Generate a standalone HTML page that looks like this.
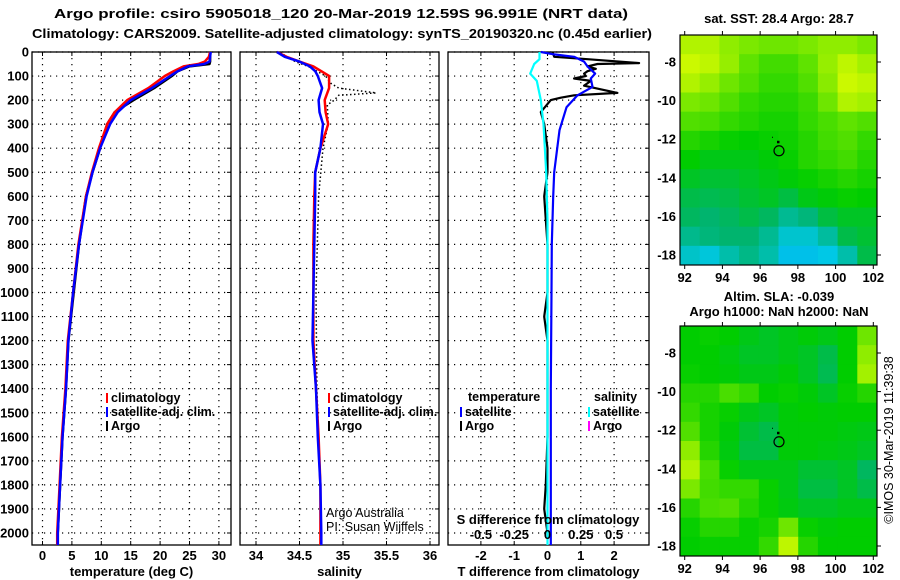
<!DOCTYPE html>
<html><head><meta charset="utf-8"><style>
html,body{margin:0;padding:0;background:#fff;}
svg{display:block;font-family:"Liberation Sans",sans-serif;}
.b{font-weight:bold;font-size:13px;}
.l{font-weight:bold;font-size:12.5px;}
</style></head><body>
<svg id="c" width="900" height="580" viewBox="0 0 900 580">
<text class="b" x="341" y="18" text-anchor="middle" font-size="14.5" textLength="574" lengthAdjust="spacingAndGlyphs">Argo profile: csiro 5905018_120 20-Mar-2019 12.59S 96.991E (NRT data)</text>
<text class="b" x="342" y="38" text-anchor="middle" font-size="14.5" textLength="620" lengthAdjust="spacingAndGlyphs">Climatology: CARS2009. Satellite-adjusted climatology: synTS_20190320.nc (0.45d earlier)</text>
<text class="b" x="779" y="23" text-anchor="middle">sat. SST: 28.4 Argo: 28.7</text>
<text class="b" x="779" y="301" text-anchor="middle">Altim. SLA: -0.039</text>
<text class="b" x="779" y="316" text-anchor="middle">Argo h1000: NaN h2000: NaN</text>
<text x="893" y="440" font-size="12.5" text-anchor="middle" transform="rotate(-90 893 440)">©IMOS 30-Mar-2019 11:39:38</text>
</svg>
<script>
// ---- data ----
const depthTicks=[0,100,200,300,400,500,600,700,800,900,1000,1100,1200,1300,1400,1500,1600,1700,1800,1900,2000];
const tempTicks=[0,5,10,15,20,25,30];
const salTicks=[34,34.5,35,35.5,36];
const tdTicks=[-2,-1,0,1,2];
const sdTicks=[-0.5,-0.25,0,0.25,0.5];
const sdTickLabels=["-0.5","-0.25","0","0.25","0.5"];
const profDepth=[0,20,40,50,60,80,100,150,200,250,300,400,500,600,800,1000,1200,1400,1600,1800,2000,2050];
const tempClim=[28.5,28.3,27.6,26.5,24,22.3,20.8,18,14.4,12.3,11,9.6,8.4,7.4,6.1,5.2,4.3,3.9,3.3,2.9,2.5,2.5];
const tempSat=[28.6,28.5,28.4,27.5,24.7,23,21.7,18.6,15,12.8,11.5,9.8,8.5,7.5,6.2,5.2,4.4,4.0,3.4,3.0,2.6,2.6];
const tempArgo=[28.5,28.5,28.5,28.4,25,23,22,19,15.5,12.3,11,9.8,8.5,7.4,6.2,5.3,4.4,4.0,3.4,3.0,2.6,2.6];
const salClim=[34.24,34.35,34.5,34.58,34.66,34.75,34.84,34.84,34.79,34.8,34.83,34.74,34.68,34.67,34.66,34.66,34.66,34.69,34.72,34.74,34.74,34.74];
const salSat=[34.24,34.33,34.5,34.56,34.62,34.68,34.71,34.76,34.72,34.73,34.77,34.74,34.68,34.68,34.67,34.66,34.65,34.69,34.71,34.74,34.75,34.75];
const argoSalDepth=[0,20,40,60,100,130,150,170,180,200,220,300,400,600,1000,1400,1800,2000];
const argoSal=[34.28,34.35,34.45,34.6,34.8,34.86,34.95,35.38,34.95,34.9,34.82,34.83,34.77,34.72,34.69,34.7,34.74,34.75];
const tdDepth=[0,20,30,46,50,60,70,80,90,100,110,120,140,170,180,190,200,250,300,400,500,600,800,1000,1100,1200,1400,1600,1800,1900,2000];
const tdArgo=[0.15,0.2,1.2,2.75,1.5,1.2,1.45,1.2,1.1,1.15,0.8,1.3,1.1,2.1,0.8,0.4,0.1,-0.2,-0.1,0,0,-0.1,0,0,-0.1,0,0,0,-0.05,-0.1,0];
const tdSatDepth=[0,10,20,40,60,90,110,145,180,230,325,500,600,800,1000,1400,2000,2050];
const tdSat=[-0.2,0.2,0.8,1.1,1.2,1.43,1.3,1.35,0.9,0.57,0.36,0.2,0.17,0.13,0.12,0.1,0.1,0.1];
const sdSatDepth=[0,30,50,90,120,200,300,500,700,1000,1500,2000,2050];
const sdSat=[-0.06,-0.06,-0.1,-0.13,-0.08,-0.05,-0.03,-0.01,0,0,0,0,0];
const mapLonTicks=[92,94,96,98,100,102];
const mapLatTicks=[-8,-10,-12,-14,-16,-18];
const sstGrid=[
[.8,.8,.75,.72,.7,.7,.72,.75,.75,.72],
[.84,.82,.76,.68,.64,.64,.68,.76,.82,.78],
[.8,.76,.7,.66,.62,.62,.66,.74,.84,.82],
[.72,.7,.66,.62,.6,.6,.63,.7,.8,.78],
[.66,.65,.62,.6,.58,.58,.62,.65,.68,.66],
[.6,.58,.56,.55,.56,.57,.6,.64,.66,.62],
[.55,.52,.52,.52,.54,.56,.6,.62,.64,.6],
[.5,.48,.48,.5,.52,.54,.56,.58,.6,.58],
[.45,.44,.45,.48,.5,.46,.52,.54,.56,.55],
[.42,.4,.42,.45,.42,.34,.38,.46,.5,.5],
[.35,.38,.4,.4,.34,.24,.24,.32,.45,.48],
[.25,.22,.3,.36,.3,.18,.18,.2,.3,.45]];
const slaGrid=[
[.55,.56,.55,.52,.5,.52,.54,.52,.55,.7],
[.55,.55,.53,.5,.5,.52,.5,.45,.55,.75],
[.56,.55,.54,.52,.52,.54,.5,.44,.55,.78],
[.6,.6,.65,.62,.55,.56,.54,.5,.56,.6],
[.62,.58,.56,.52,.5,.54,.55,.54,.55,.55],
[.66,.58,.54,.48,.45,.54,.54,.54,.53,.52],
[.75,.6,.53,.46,.46,.54,.54,.53,.52,.5],
[.8,.65,.56,.52,.52,.52,.48,.48,.5,.42],
[.72,.64,.62,.62,.56,.52,.46,.46,.5,.45],
[.6,.65,.66,.6,.56,.53,.5,.5,.52,.52],
[.56,.6,.6,.56,.58,.7,.56,.54,.55,.55],
[.55,.56,.56,.56,.62,.82,.6,.55,.55,.55]];
const floatLon=97.0, floatLat=-12.6;

// ---- helpers ----
const NS='http://www.w3.org/2000/svg';
const svg=document.getElementById('c');
function mk(tag,attrs,parent){const e=document.createElementNS(NS,tag);for(const k in attrs)e.setAttribute(k,attrs[k]);(parent||svg).appendChild(e);return e;}
const top0=52,bot=545;
const yD=d=>top0+0.2405*d;
function pathOf(xs,ds,fx){return xs.map((v,i)=>(i?'L':'M')+fx(v).toFixed(1)+','+yD(ds[i]).toFixed(1)).join('');}

function panel(x0,x1,xTicks,fx,labels,name,title){
  const g=mk('g',{});
  
  
  depthTicks.forEach(d=>{const l=mk('line',{x1:x0,x2:x1,y1:yD(d),y2:yD(d),stroke:'#000','stroke-width':1.2,'stroke-dasharray':'1.2 4.8'},g);
    
    mk('line',{x1:x1,x2:x1-4,y1:yD(d),y2:yD(d),stroke:'#000'},g);});
  xTicks.forEach((t,i)=>{const x=fx(t);
    const l=mk('line',{x1:x,x2:x,y1:top0,y2:bot,stroke:'#000','stroke-width':1.2,'stroke-dasharray':'1.2 4.8'},g);
    
    mk('line',{x1:x,x2:x,y1:top0,y2:top0+4,stroke:'#000'},g);
    mk('line',{x1:x,x2:x,y1:bot,y2:bot-4,stroke:'#000'},g);
    const tx=mk('text',{x:x,y:560,'text-anchor':'middle',class:'b'},g);tx.textContent=labels[i];
    });
  const r=mk('rect',{x:x0,y:top0,width:x1-x0,height:bot-top0,fill:'none',stroke:'#000','stroke-width':1.3},g);
  
  const t=mk('text',{x:(x0+x1)/2,y:576,'text-anchor':'middle',class:'b'},g);t.textContent=title;
  
  return g;
}
function line(g,d,color,w,name,dash){const p=mk('path',{d:d,fill:'none',stroke:color,'stroke-width':w,'stroke-linejoin':'round'},g);if(dash)p.setAttribute('stroke-dasharray',dash);
  return p;}
function legendRow(g,x,y,color,label,name){
  mk('line',{x1:x,x2:x,y1:y-9,y2:y+1,stroke:color,'stroke-width':2},g);
  const t=mk('text',{x:x+4,y:y,class:'l'},g);t.textContent=label;
  }

// depth labels
depthTicks.forEach(d=>{const t=mk('text',{x:29,y:yD(d)+4.5,'text-anchor':'end',class:'b'});t.textContent=d;
  });

// panel 1 temperature
const fT=v=>42.5+5.88*v;
const g1=panel(32,231,tempTicks,fT,tempTicks.map(String),'temperature-panel','temperature (deg C)');
line(g1,pathOf(tempArgo,profDepth,fT),'#000',2.5,'argo-temperature-line');
line(g1,pathOf(tempClim,profDepth,fT),'#f00',2.5,'climatology-temperature-line');
line(g1,pathOf(tempSat,profDepth,fT),'#00f',2.5,'satellite-temperature-line');
const lg1=mk('g',{},g1);
legendRow(lg1,107,402,'#f00','climatology','legend-climatology');
legendRow(lg1,107,416,'#00f','satellite-adj. clim.','legend-satellite');
legendRow(lg1,107,430,'#000','Argo','legend-argo');

// panel 2 salinity
const fS=v=>256+87*(v-34);
const g2=panel(240,439,salTicks,fS,salTicks.map(String),'salinity-panel','salinity');
line(g2,pathOf(argoSal,argoSalDepth,fS),'#000',1.5,'argo-salinity-line','1.5 2.5');
line(g2,pathOf(salClim,profDepth,fS),'#f00',2.5,'climatology-salinity-line');
line(g2,pathOf(salSat,profDepth,fS),'#00f',2.5,'satellite-salinity-line');
const lg2=mk('g',{},g2);
legendRow(lg2,329,402,'#f00','climatology','legend-climatology');
legendRow(lg2,329,416,'#00f','satellite-adj. clim.','legend-satellite');
legendRow(lg2,329,430,'#000','Argo','legend-argo');
[['Argo Australia',517],['PI: Susan Wijffels',531]].forEach(a=>{const t=mk('text',{x:326,y:a[1],'font-size':12.5},g2);t.textContent=a[0];
  });

// panel 3 differences
const fTD=v=>547.5+33.3*v;
const fSD=v=>547.5+133.2*v;
const g3=panel(448,649,tdTicks,fTD,tdTicks.map(String),'difference-panel','T difference from climatology');
line(g3,pathOf(tdArgo,tdDepth,fTD),'#000',2.2,'argo-temperature-difference-line');
line(g3,pathOf(tdSat,tdSatDepth,fTD),'#00f',2.2,'satellite-temperature-difference-line');
line(g3,pathOf(sdSat,sdSatDepth,fSD),'#0ff',2.2,'satellite-salinity-difference-line');
sdTicks.forEach((t,i)=>{const tx=mk('text',{x:fSD(t),y:539,'text-anchor':'middle',class:'b'},g3);tx.textContent=sdTickLabels[i];
  });
const st=mk('text',{x:548,y:524,'text-anchor':'middle',class:'b'},g3);st.textContent='S difference from climatology';

const lg3=mk('g',{},g3);
const th=mk('text',{x:468,y:401,class:'l'},lg3);th.textContent='temperature';
const sh=mk('text',{x:594,y:401,class:'l'},lg3);sh.textContent='salinity';
legendRow(lg3,461,416,'#00f','satellite','legend-temp-satellite');
legendRow(lg3,461,430,'#000','Argo','legend-temp-argo');
legendRow(lg3,589,416,'#0ff','satellite','legend-sal-satellite');
legendRow(lg3,589,430,'#f0f','Argo','legend-sal-argo');

// maps
const stops=[[0,[0,120,255]],[0.2,[0,200,230]],[0.4,[0,180,110]],[0.55,[0,205,0]],[0.7,[110,230,0]],[0.85,[210,250,0]],[1,[255,160,0]]];
function cmap(v){for(let i=1;i<stops.length;i++){if(v<=stops[i][0]){const a=stops[i-1],b=stops[i],f=(v-a[0])/(b[0]-a[0]);
  return 'rgb('+a[1].map((c,k)=>Math.round(c+(b[1][k]-c)*f)).join(',')+')';}}return 'rgb(255,160,0)';}
function drawMap(grid,y0,name){
  const x0=680,x1=877,y1=y0+230;
  const fx=lon=>684.7+18.86*(lon-92);
  const fy=lat=>y0+27+19.3*(-8-lat);
  const g=mk('g',{});
  const rows=grid.length,cols=grid[0].length,cw=(x1-x0)/cols,ch=(y1-y0)/rows;
  grid.forEach((row,r)=>row.forEach((v,c)=>{const cell=mk('rect',{x:x0+c*cw,y:y0+r*ch,width:cw+0.5,height:ch+0.5,fill:cmap(v)},g);
    }));
  mk('rect',{x:x0,y:y0,width:x1-x0,height:y1-y0,fill:'none',stroke:'#000','stroke-width':1.2},g);
  mapLonTicks.forEach(l=>{const x=fx(l);mk('line',{x1:x,x2:x,y1:y0,y2:y0-4,stroke:'#000'},g);mk('line',{x1:x,x2:x,y1:y1,y2:y1+4,stroke:'#000'},g);
    const t=mk('text',{x:x,y:y1+17,'text-anchor':'middle',class:'b'},g);t.textContent=l;});
  mapLatTicks.forEach(l=>{const y=fy(l);mk('line',{x1:x1,x2:x1+4,y1:y,y2:y,stroke:'#000'},g);
    const t=mk('text',{x:676,y:y+4.5,'text-anchor':'end',class:'b'},g);t.textContent=l;});
  const m=mk('circle',{cx:fx(floatLon),cy:fy(floatLat),r:5,fill:'none',stroke:'#000','stroke-width':1.2},g);
  
  mk('rect',{x:fx(floatLon)-2,y:fy(floatLat)-10,width:2.5,height:2.5,fill:'#000'},g);
  mk('rect',{x:fx(floatLon)-7,y:fy(floatLat)-14,width:1,height:1,fill:'#000'},g);
}
drawMap(sstGrid,35,'sst-map');
drawMap(slaGrid,326,'sla-map');
</script>
</body></html>
